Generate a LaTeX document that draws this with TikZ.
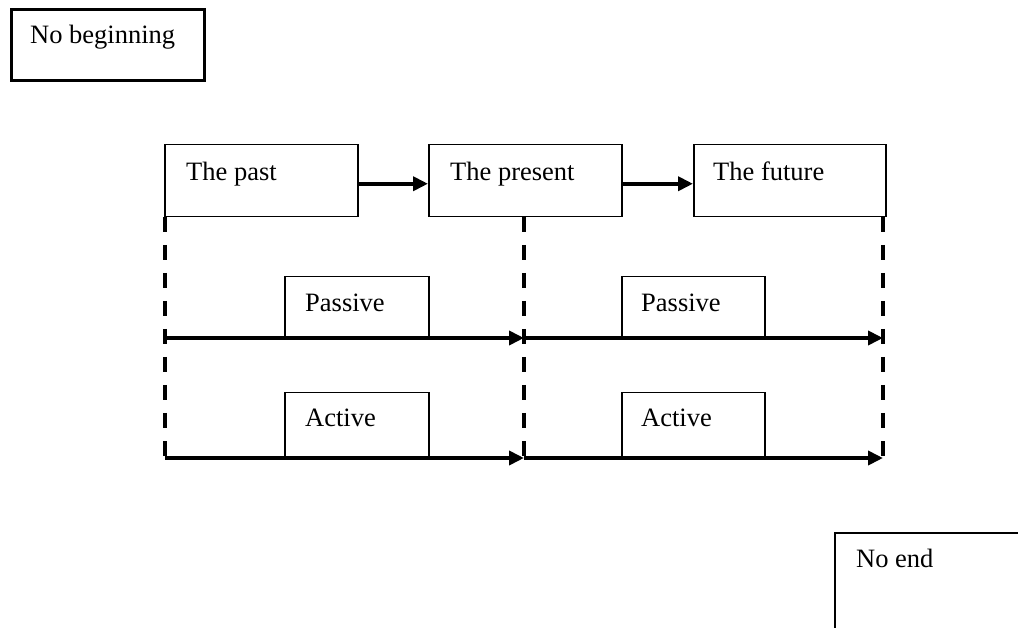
\documentclass[tikz,border=0pt]{standalone}
\usepackage{fontspec}
\setmainfont{Liberation Serif}
\usetikzlibrary{arrows.meta}
\begin{document}
\begin{tikzpicture}[x=1pt,y=-1pt,
  box/.style={draw, line width=1.5pt, rectangle, inner sep=0pt, anchor=north west},
  lbl/.style={anchor=base west, inner sep=0pt, font=\fontsize{26.5}{30}\selectfont},
  flow/.style={line width=4pt, -{Triangle[length=15pt,width=14pt]}},
  guide/.style={line width=4pt, dash pattern=on 15pt off 13pt}]
\useasboundingbox (0,0) rectangle (1018,628);
\clip (0,0) rectangle (1018,628);

% outer boxes
\node[box, line width=2.6pt, minimum width=193pt, minimum height=71pt] (nob) at (10,8) {};
\node[lbl] (nobT) at (30,44) {No beginning};
\draw[line width=2.2pt] (835,660) -- (835,533) -- (1040,533);
\node[lbl] (noeT) at (856,567) {No end};

% time boxes
\node[box, minimum width=193pt, minimum height=72pt] (past) at (164,144) {};
\node[box, minimum width=193pt, minimum height=72pt] (pres) at (428,144) {};
\node[box, minimum width=192pt, minimum height=72pt] (fut)  at (693,144) {};
\node[lbl] (pastT) at (186,181) {The past};
\node[lbl] (presT) at (450,181) {The present};
\node[lbl] (futT)  at (713,181) {The future};

\draw[flow] ([yshift=-3pt]past.east) -- ([yshift=-3pt]pres.west);
\draw[flow] ([yshift=-3pt]pres.east) -- ([yshift=-3pt]fut.west);

% dashed guides
\coordinate (g1t) at (165,217); \coordinate (g1b) at (165,460);
\coordinate (g2t) at (524,217); \coordinate (g2b) at (524,460);
\coordinate (g3t) at (883,217); \coordinate (g3b) at (883,460);
\draw[guide] (g1t) -- (g1b);
\draw[guide] (g2t) -- (g2b);
\draw[guide] (g3t) -- (g3b);

% passive / active boxes
\node[box, minimum width=144pt, minimum height=62pt] (pas1) at (284,276) {};
\node[box, minimum width=143pt, minimum height=62pt] (pas2) at (621,276) {};
\node[box, minimum width=144pt, minimum height=66pt] (act1) at (284,392) {};
\node[box, minimum width=143pt, minimum height=66pt] (act2) at (621,392) {};
\node[lbl] (pas1T) at (305,312) {Passive};
\node[lbl] (pas2T) at (641,312) {Passive};
\node[lbl] (act1T) at (305,427) {Active};
\node[lbl] (act2T) at (641,427) {Active};

% timelines
\coordinate (p0) at (165,338); \coordinate (p1) at (524,338); \coordinate (p2) at (883,338);
\coordinate (a0) at (165,458); \coordinate (a1) at (524,458); \coordinate (a2) at (883,458);
\draw[flow] (p0) -- (p1);
\draw[flow] (p1) -- (p2);
\draw[flow] (a0) -- (a1);
\draw[flow] (a1) -- (a2);
\end{tikzpicture}
\end{document}
